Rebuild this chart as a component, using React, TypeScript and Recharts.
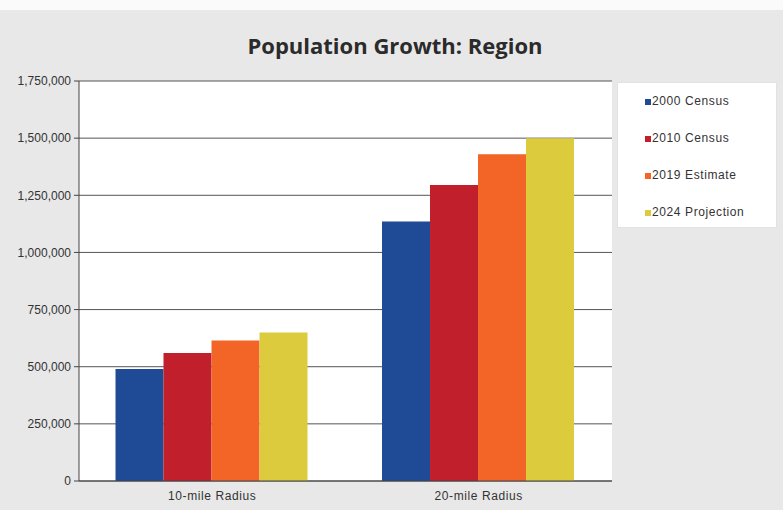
import { Bar, BarChart, CartesianGrid, XAxis, YAxis } from "recharts";

const CATEGORIES = ["10-mile Radius", "20-mile Radius"];
const CENSUS_2000 = [490000, 1135000];
const CENSUS_2010 = [560000, 1295000];
const ESTIMATE_2019 = [615000, 1430000];
const PROJECTION_2024 = [650000, 1500000];
const Y_TICKS = [0, 250000, 500000, 750000, 1000000, 1250000, 1500000, 1750000];

const SERIES = [
  { key: "c2000", name: "2000 Census", color: "#1f4a96" },
  { key: "c2010", name: "2010 Census", color: "#c11f2c" },
  { key: "e2019", name: "2019 Estimate", color: "#f26526" },
  { key: "p2024", name: "2024 Projection", color: "#dccb3c" },
];

const data = CATEGORIES.map((name, i) => ({
  name,
  c2000: CENSUS_2000[i],
  c2010: CENSUS_2010[i],
  e2019: ESTIMATE_2019[i],
  p2024: PROJECTION_2024[i],
}));

const FONT = "'Liberation Sans', Arial, sans-serif";

function LegendBox() {
  return (
    <div
      style={{
        position: "absolute",
        left: 617,
        top: 82,
        background: "#fff",
        border: "1px solid #e2e2e2",
        width: 160,
        height: 146,
        boxSizing: "border-box",
        paddingTop: 11,
        paddingLeft: 27,
        fontFamily: FONT,
        fontSize: 12,
        letterSpacing: 0.6,
        color: "#333",
      }}
    >
      {SERIES.map((s) => (
        <div key={s.key} style={{ height: 37, display: "flex", alignItems: "flex-start" }}>
          <span
            style={{
              display: "inline-block",
              width: 6,
              height: 6,
              background: s.color,
              marginTop: 5,
              marginRight: 1,
            }}
          />
          <span>{s.name}</span>
        </div>
      ))}
    </div>
  );
}

export default function App() {
  return (
    <div
      style={{
        position: "absolute",
        left: 0,
        top: 0,
        width: 783,
        height: 510,
        background: "#e8e8e8",
        overflow: "hidden",
      }}
    >
      <div style={{ position: "absolute", left: 0, top: 0, width: 783, height: 10, background: "#fafafa" }} />
      <div
        style={{
          position: "absolute",
          left: 0,
          top: 30,
          width: 790,
          textAlign: "center",
          fontFamily: "'Open Sans', Roboto, sans-serif",
          fontWeight: 700,
          fontSize: 22,
          color: "#2b2b2b",
        }}
      >
        Population Growth: Region
      </div>
      <div style={{ position: "absolute", left: 0, top: 0 }}>
        <BarChart
          width={783}
          height={510}
          data={data}
          margin={{ top: 81, right: 171, bottom: 0, left: 0 }}
          barCategoryGap="13.7%"
          barGap={0}
        >
          <CartesianGrid vertical={false} stroke="#555" fill="#fff" fillOpacity={1} />
          <XAxis
            dataKey="name"
            height={29}
            axisLine={{ stroke: "#444" }}
            tickLine={false}
            tick={{ fill: "#333", fontSize: 12, fontFamily: FONT, letterSpacing: 0.6 }}
            tickMargin={4}
          />
          <YAxis
            width={79}
            domain={[0, 1750000]}
            ticks={Y_TICKS}
            interval={0}
            axisLine={{ stroke: "#444" }}
            tickLine={{ stroke: "#444" }}
            tickSize={5}
            tickMargin={3}
            tick={{ fill: "#333", fontSize: 12, fontFamily: FONT }}
            tickFormatter={(v: number) => v.toLocaleString("en-US")}
          />
          {SERIES.map((s) => (
            <Bar key={s.key} dataKey={s.key} name={s.name} fill={s.color} isAnimationActive={false} />
          ))}
        </BarChart>
      </div>
      <LegendBox />
    </div>
  );
}
